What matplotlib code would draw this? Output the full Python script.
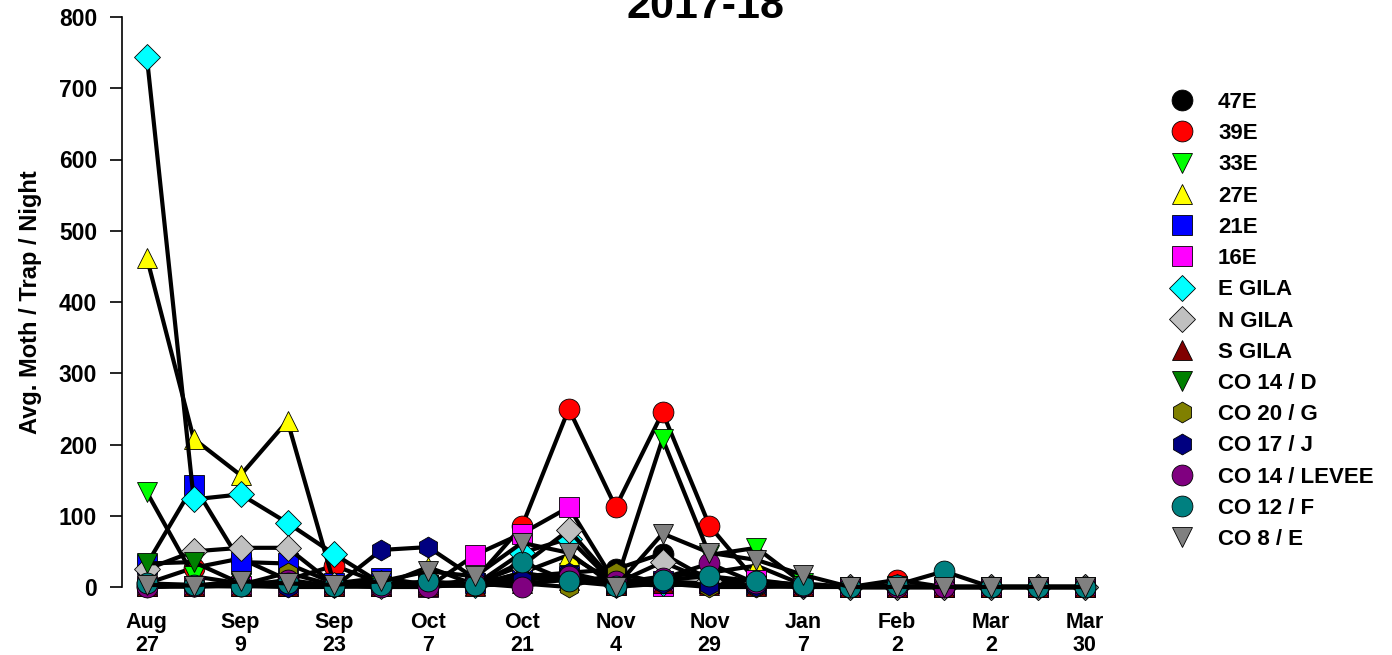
import matplotlib.pyplot as plt
from matplotlib.lines import Line2D

plt.rcParams['font.family'] = ['Liberation Sans', 'DejaVu Sans']
plt.rcParams['font.weight'] = 'bold'

# x positions are sampling dates (evenly spaced), every other one labelled
tick_labels = ['Aug\n27', 'Sep\n9', 'Sep\n23', 'Oct\n7', 'Oct\n21', 'Nov\n4',
               'Nov\n29', 'Jan\n7', 'Feb\n2', 'Mar\n2', 'Mar\n30']
n_dates = 21

names = ['47E', '39E', '33E', '27E', '21E', '16E', 'E GILA', 'N GILA', 'S GILA',
         'CO 14 / D', 'CO 20 / G', 'CO 17 / J', 'CO 14 / LEVEE', 'CO 12 / F', 'CO 8 / E']
colors = ['black', '#FF0000', '#00FF00', '#FFFF00', '#0000FF', '#FF00FF', '#00FFFF',
          '#C0C0C0', '#800000', '#008000', '#808000', '#000080', '#800080', '#008080', '#808080']
markers = ['o', 'o', 'v', '^', 's', 's', 'D', 'D', '^', 'v', 'h', 'h', 'o', 'o', 'v']

# values
e47 = [2, 1, 3, 2, 1, 2, 3, 5, 10, 20, 25, 47, 10, 5, 2, 0, 1, 0, 0, 0, 0]
e39 = [5, 27, 40, 10, 30, 5, 3, 10, 85, 250, 112, 245, 86, 8, 2, 0, 10, 0, 0, 0, 0]
e33 = [133, 15, 5, 3, 2, 1, 3, 5, 15, 20, 5, 208, 45, 55, 5, 0, 1, 0, 0, 0, 0]
e27 = [462, 208, 157, 233, 3, 2, 28, 3, 20, 45, 5, 15, 20, 30, 3, 0, 0, 0, 0, 0, 0]
e21 = [32, 143, 35, 33, 5, 13, 3, 5, 10, 15, 3, 8, 5, 3, 1, 0, 0, 0, 0, 0, 0]
e16 = [2, 1, 2, 1, 1, 2, 0, 45, 75, 112, 5, 2, 5, 10, 2, 0, 0, 0, 0, 0, 0]
e_gila = [744, 123, 130, 90, 46, 5, 3, 3, 48, 68, 3, 5, 5, 5, 2, 0, 0, 0, 0, 0, 0]
n_gila = [25, 50, 55, 55, 3, 2, 3, 5, 30, 80, 5, 35, 8, 5, 2, 0, 0, 0, 0, 0, 0]
s_gila = [2, 1, 1, 1, 1, 1, 2, 2, 5, 10, 3, 5, 3, 2, 1, 0, 0, 0, 0, 0, 0]
co14_d = [33, 35, 5, 3, 1, 2, 3, 2, 20, 10, 3, 5, 3, 2, 1, 0, 0, 0, 0, 0, 0]
co20_g = [2, 1, 3, 20, 2, 1, 2, 2, 5, 0, 20, 5, 0, 0, 1, 0, 0, 0, 0, 0, 0]
co17_j = [0, 1, 2, 0, 0, 52, 56, 12, 10, 20, 0, 5, 3, 2, 0, 0, 0, 0, 0, 0, 0]
co14_levee = [0, 2, 1, 10, 1, 0, 0, 5, 0, 15, 8, 12, 33, 5, 1, 0, 0, 0, 0, 0, 0]
co12_f = [5, 3, 2, 5, 2, 3, 8, 3, 35, 8, 2, 10, 15, 8, 3, 0, 3, 22, 0, 0, 0]
co8_e = [3, 2, 8, 5, 3, 8, 22, 15, 62, 48, 0, 75, 48, 38, 17, 0, 0, 0, 0, 0, 0]

series = [e47, e39, e33, e27, e21, e16, e_gila, n_gila, s_gila,
          co14_d, co20_g, co17_j, co14_levee, co12_f, co8_e]

fig = plt.figure(figsize=(13.92, 6.55), dpi=100)
ax = fig.add_axes([122 / 1392, 68 / 655, 986 / 1392, 570 / 655])

x = list(range(n_dates))
for k, vals in enumerate(series):
    ax.plot(x, vals, color='black', lw=3, marker=markers[k], ms=15 if markers[k] != 'D' else 13,
            mfc=colors[k], mec='black', mew=0.6, zorder=2 + k, clip_on=False)

ax.set_xlim(-0.53, 20.5)
ax.set_ylim(0, 800)
ax.set_yticks(range(0, 801, 100))
ax.set_xticks(range(0, n_dates, 2))
ax.set_xticklabels(tick_labels, fontsize=15.5, fontweight='bold', linespacing=1.12)
ax.tick_params(axis='x', length=0, pad=18)
ax.tick_params(axis='y', length=9, width=1.2, labelsize=16.5, pad=9)
for s in ['top', 'right', 'bottom']:
    ax.spines[s].set_visible(False)
ax.spines['left'].set_linewidth(1.2)
ax.set_ylabel('Avg. Moth / Trap / Night', fontsize=17, fontweight='bold', labelpad=12)

fig.text(705 / 1392, 1 - 18 / 655, '2017-18', ha='center', va='baseline',
         fontsize=31, fontweight='bold')

handles = [Line2D([], [], ls='none', marker=markers[k], ms=15 if markers[k] != 'D' else 13,
                  mfc=colors[k], mec='black', mew=0.6) for k in range(len(names))]
fig.legend(handles, names, loc='upper left', bbox_to_anchor=(1171 / 1392, 1 - 92 / 655),
           frameon=False, handlelength=1, handletextpad=1.12,
           labelspacing=0.46, borderpad=0, borderaxespad=0,
           prop={'weight': 'bold', 'size': 16})

fig.savefig('out.png', dpi=100)
